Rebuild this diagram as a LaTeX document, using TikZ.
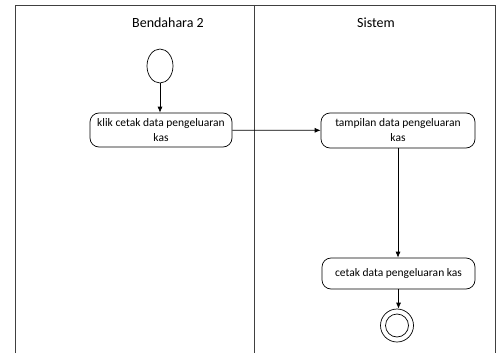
\documentclass[tikz,border=0pt]{standalone}
\usepackage{fontspec}
\setmainfont{Carlito}
\usetikzlibrary{shapes.geometric,arrows.meta}
\tikzset{
    lane/.style = {line width = 0.9pt, draw = black!75},
    activity/.style = {draw, rounded corners = 9pt, line width = 0.7pt, align = center,
        font = \fontsize{11.5}{15}\selectfont, inner sep = 0pt},
    flow/.style = {line width = 0.7pt, -{Latex[length = 6pt, width = 5pt]}}
}
\begin{document}
\begin{tikzpicture}[x = 1pt, y = -1pt]
        \useasboundingbox (0,0) rectangle (500,353);
        % swimlanes
        \begin{scope}
            \draw[lane] (15.5,353) -- (15.5,5) -- (495,5) -- (495,353);
            \draw[lane] (254,5) -- (254,353);
            \node[font = \fontsize{14}{16}\selectfont] (laneA) at (168,23) {Bendahara 2};
            \node[font = \fontsize{14}{16}\selectfont] (laneB) at (376,23) {Sistem};
        \end{scope}
        % nodes
        \node[draw, ellipse, line width = 0.7pt, minimum width = 26pt, minimum height = 34pt, inner sep = 0pt] (start) at (160,66) {};
        \node[activity, minimum width = 142pt, minimum height = 34pt] (klik) at (161,130) {klik cetak data pengeluaran\\kas};
        \node[activity, minimum width = 154pt, minimum height = 35pt] (tampil) at (398,130.5) {tampilan data pengeluaran\\kas};
        \node[activity, minimum width = 153pt, minimum height = 31pt] (cetak) at (398.5,273.5) {cetak data pengeluaran kas};
        \node[draw, circle, line width = 0.7pt, minimum size = 33pt, inner sep = 0pt] (stop) at (397,325.5) {};
        \draw[line width = 0.7pt] (stop) circle (11.5pt);
        % flows
        \draw[flow] (start) -- (start |- klik.north);
        \draw[flow] (klik) -- (tampil);
        \draw[flow] (tampil) -- (tampil |- cetak.north);
        \draw[flow] (cetak) -- (cetak |- stop.north);
    \end{tikzpicture}
\end{document}
